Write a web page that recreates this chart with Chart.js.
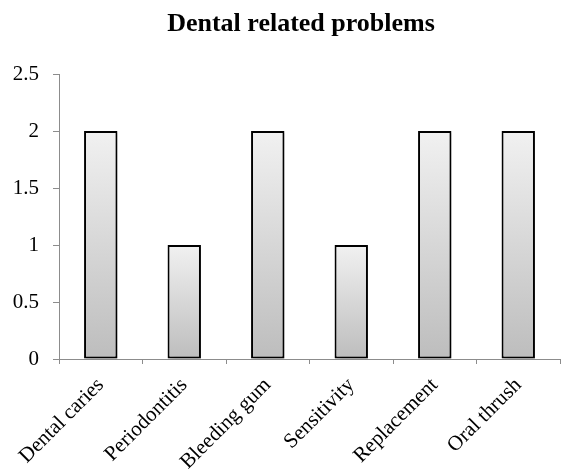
<!DOCTYPE html>
<html>
<head>
<meta charset="utf-8">
<script src="https://cdn.jsdelivr.net/npm/chart.js@4.4.1/dist/chart.umd.min.js"></script>
<style>
    body { margin: 0; background: #fff; }
    #wrap { width: 561px; height: 472px; }
</style>
</head>
<body>
<div id="wrap"><canvas id="myChart" width="561" height="472"></canvas></div>
<script>
// Chart data
const categories = ['Dental caries', 'Periodontitis', 'Bleeding gum', 'Sensitivity', 'Replacement', 'Oral thrush'];
const counts = [2, 1, 2, 1, 2, 2];
const yTicks = [0, 0.5, 1, 1.5, 2, 2.5];
const chartTitle = 'Dental related problems';

const serif = '"Liberation Serif", "Times New Roman", serif';

// Gradient per bar, light at its top to gray at its base
function barGradient(context) {
    const chart = context.chart;
    if (!chart.chartArea || !chart.scales.y) return '#d8d8d8';
    const yScale = chart.scales.y;
    const top = yScale.getPixelForValue(context.raw);
    const bottom = yScale.getPixelForValue(0);
    const g = chart.ctx.createLinearGradient(0, top, 0, bottom);
    g.addColorStop(0, '#f1f1f1');
    g.addColorStop(1, '#bdbdbd');
    return g;
}

// Soft shadow behind the bars
const barShadow = {
    id: 'barShadow',
    beforeDatasetsDraw(chart) {
        const ctx = chart.ctx;
        ctx.save();
        ctx.shadowColor = 'rgba(0, 0, 0, 0.3)';
        ctx.shadowBlur = 3;
        ctx.shadowOffsetX = 2;
        ctx.shadowOffsetY = 2;
    },
    afterDatasetsDraw(chart) {
        chart.ctx.restore();
    }
};

// Title sits a bit right of the canvas centre in the original, so draw it here
const offsetTitle = {
    id: 'offsetTitle',
    afterDraw(chart) {
        const ctx = chart.ctx;
        ctx.save();
        ctx.font = 'bold 26px ' + serif;
        ctx.fillStyle = '#000';
        ctx.textAlign = 'center';
        ctx.textBaseline = 'middle';
        ctx.fillText(chartTitle, 301, 24);
        ctx.restore();
    }
};

const config = {
    type: 'bar',
    data: {
        labels: categories,
        datasets: [{
            label: chartTitle,
            data: counts,
            backgroundColor: barGradient,
            borderColor: '#000',
            borderWidth: 2,
            borderSkipped: false,
            categoryPercentage: 1,
            barPercentage: 0.4
        }]
    },
    options: {
        responsive: false,
        animation: false,
        layout: { padding: { left: 0, right: 1, top: 74, bottom: 0 } },
        plugins: {
            legend: { display: false },
            tooltip: { enabled: false },
            title: { display: false }
        },
        scales: {
            x: {
                grid: {
                    display: true,
                    drawOnChartArea: false,
                    drawTicks: true,
                    tickLength: 5,
                    color: '#8c8c8c',
                    offset: true
                },
                border: { color: '#8c8c8c', width: 1 },
                ticks: {
                    color: '#000',
                    font: { family: serif, size: 21 },
                    maxRotation: 45,
                    minRotation: 45,
                    padding: 9
                },
                afterFit(scale) { scale.height = 113; }
            },
            y: {
                min: 0,
                max: 2.5,
                afterBuildTicks(scale) {
                    scale.ticks = yTicks.map(v => ({ value: v }));
                },
                grid: {
                    display: true,
                    drawOnChartArea: false,
                    drawTicks: true,
                    tickLength: 6,
                    color: '#8c8c8c'
                },
                border: { color: '#8c8c8c', width: 1 },
                ticks: {
                    color: '#000',
                    font: { family: serif, size: 21 },
                    padding: 14,
                    callback: value => String(value)
                },
                afterFit(scale) { scale.width = 59; }
            }
        }
    },
    plugins: [barShadow, offsetTitle]
};

const ctx = document.getElementById('myChart').getContext('2d');
const myChart = new Chart(ctx, config);
</script>
</body>
</html>
